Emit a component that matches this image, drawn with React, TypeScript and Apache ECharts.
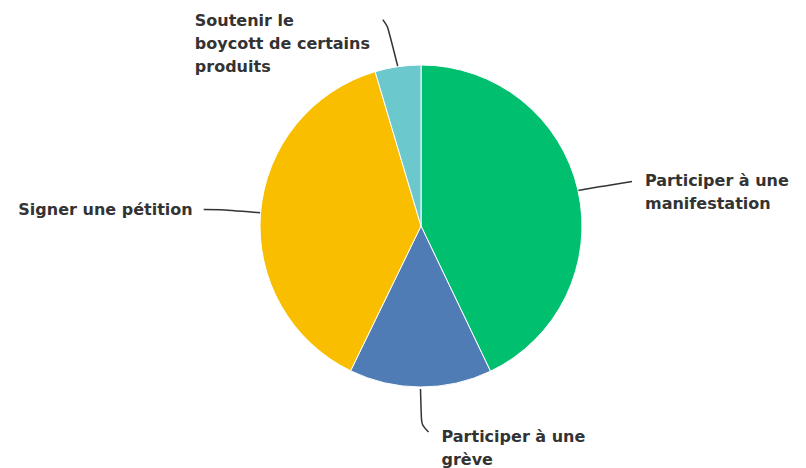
import React, { useEffect, useRef } from "react";
import * as echarts from "echarts";

const categories = [
  "Participer à une\nmanifestation",
  "Participer à une\ngrève",
  "Signer une pétition",
  "Soutenir le\nboycott de certains\nproduits",
];
const values = [42.9, 14.3, 38.2, 4.6];
const colors = ["#00BF6F", "#507CB6", "#F9BE00", "#6BC8CD"];

const LH = 23;

export default function App() {
  const ref = useRef<HTMLDivElement>(null);
  useEffect(() => {
    const chart = echarts.init(ref.current!, null, { renderer: "svg" });
    chart.setOption({
      animation: false,
      backgroundColor: "#ffffff",
      series: [
        {
          type: "pie",
          center: [421, 226],
          radius: 161,
          startAngle: 90,
          clockwise: true,
          avoidLabelOverlap: false,
          itemStyle: { borderColor: "#ffffff", borderWidth: 1 },
          label: {
            show: true,
            color: "#333333",
            fontFamily: "DejaVu Sans",
            fontWeight: "bold",
            fontSize: 16,
            lineHeight: LH,
            align: "left",
            distanceToLabelLine: 11,
          },
          labelLine: {
            show: true,
            length: 40,
            length2: 17,
            smooth: 0.3,
            lineStyle: { color: "#333333", width: 1.5 },
          },
          labelLayout: (params: any) => {
            const p = params.labelLinePoints;
            if (!p) return {};
            const p0 = p[0];
            const i = params.dataIndex;
            if (i === 0) {
              const end = [p0[0] + 54, p0[1] - 9];
              return {
                x: end[0] + 13,
                y: end[1] - LH / 2 - 1,
                align: "left",
                verticalAlign: "top",
                labelLinePoints: [p0, [p0[0] + 27, p0[1] - 4.5], end],
              };
            }
            if (i === 1) {
              return {
                x: p0[0] + 21,
                y: p0[1] + 38,
                align: "left",
                verticalAlign: "top",
                labelLinePoints: [
                  [p0[0], p0[1] + 2],
                  [p0[0] + 1, p0[1] + 38],
                  [p0[0] + 8, p0[1] + 45],
                ],
              };
            }
            if (i === 3) {
              return {
                x: p0[0] - 203,
                y: 9,
                align: "left",
                verticalAlign: "top",
                labelLinePoints: [
                  p0,
                  [p0[0] - 10, p0[1] - 40],
                  [p0[0] - 15, p0[1] - 47],
                ],
              };
            }
            return {};
          },
          data: categories.map((c, i) => ({
            name: c,
            value: values[i],
            itemStyle: { color: colors[i] },
          })),
        },
      ],
    });
    return () => chart.dispose();
  }, []);
  return (
    <div
      ref={ref}
      style={{ position: "fixed", left: 0, top: 0, width: 806, height: 468 }}
    />
  );
}
